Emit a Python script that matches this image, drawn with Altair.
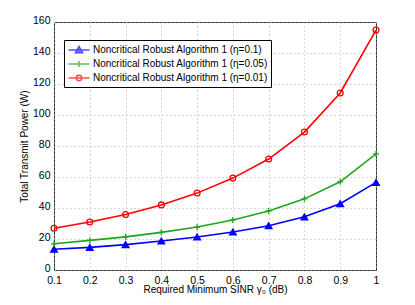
import altair as alt
import pandas as pd

sinr = [0.1, 0.2, 0.3, 0.4, 0.5, 0.6, 0.7, 0.8, 0.9, 1.0]
p_eta_01 = [13.4, 14.6, 16.4, 18.7, 21.3, 24.5, 28.6, 34.3, 42.8, 56.5]
p_eta_005 = [16.9, 19.1, 21.4, 24.3, 27.7, 32.3, 38.1, 45.9, 56.9, 74.9]
p_eta_001 = [26.9, 31.0, 35.8, 42.0, 49.6, 59.3, 71.6, 89.0, 114.2, 154.8]
series_names = [
    "Noncritical Robust Algorithm 1 (η=0.1)",
    "Noncritical Robust Algorithm 1 (η=0.05)",
    "Noncritical Robust Algorithm 1 (η=0.01)",
]
colors = ["#0000ff", "#1ea51e", "#ff0000"]
x_ticks = [0.1, 0.2, 0.3, 0.4, 0.5, 0.6, 0.7, 0.8, 0.9, 1.0]
y_ticks = [0, 20, 40, 60, 80, 100, 120, 140, 160]

rows = []
for name, vals in zip(series_names, [p_eta_01, p_eta_005, p_eta_001]):
    for xv, yv in zip(sinr, vals):
        rows.append({"sinr": xv, "power": yv, "series": name})
df = pd.DataFrame(rows)

FONT = "Liberation Sans"

x_enc = alt.X(
    "sinr:Q",
    scale=alt.Scale(domain=[0.1, 1.0], nice=False, zero=False),
    axis=alt.Axis(values=x_ticks, format="~g", title="Required Minimum SINR γ₀ (dB)"),
)
y_enc = alt.Y(
    "power:Q",
    scale=alt.Scale(domain=[0, 160], nice=False),
    axis=alt.Axis(values=y_ticks, title="Total Transmit Power (W)"),
)

marker_shapes = ["triangle-up", "M-1,0H1M0,-1V1", "circle"]
marker_sizes = [45, 36, 34]
marker_fill = [colors[0], "transparent", "transparent"]

layers = []
for i, name in enumerate(series_names):
    sub = alt.Chart(df).transform_filter(alt.datum.series == name)
    layers.append(
        sub.mark_line(color=colors[i], strokeWidth=1.6).encode(x=x_enc, y=y_enc)
    )
    layers.append(
        sub.mark_point(
            shape=marker_shapes[i],
            size=marker_sizes[i],
            stroke=colors[i],
            fill=marker_fill[i],
            strokeWidth=1.3,
            opacity=1,
        ).encode(x=x_enc, y=y_enc)
    )

legend_paths = [
    "M-1.75,0H1.75M0,-0.6L0.6,0.45H-0.6Z",
    "M-1.75,0H1.75M0,-0.5V0.5",
    "M-1.75,0H1.75M0.45,0A0.45,0.45,0,1,1,-0.45,0A0.45,0.45,0,1,1,0.45,0",
]
leg = alt.Legend(
    title=None,
    orient="none",
    legendX=10,
    legendY=18,
    strokeColor="black",
    fillColor="white",
    padding=3,
    symbolSize=144,
    symbolStrokeWidth=1.5,
    symbolOffset=5,
    labelOffset=7,
    labelLimit=400,
    rowPadding=1,
    labelFont=FONT,
    labelFontSize=10,
    labelColor="black",
    cornerRadius=0,
)
legend_layer = (
    alt.Chart(df)
    .transform_filter(alt.datum.power < -1000)
    .mark_point()
    .encode(
        x=x_enc,
        y=y_enc,
        shape=alt.Shape("series:N", scale=alt.Scale(domain=series_names, range=legend_paths), legend=leg),
        stroke=alt.Stroke("series:N", scale=alt.Scale(domain=series_names, range=colors), legend=leg),
        fill=alt.Fill("series:N", scale=alt.Scale(domain=series_names, range=[colors[0], "transparent", "transparent"]), legend=leg),
    )
)
layers.append(legend_layer)

chart = (
    alt.layer(*layers)
    .properties(
        width=322,
        height=248,
        autosize=alt.AutoSizeParams(type="none"),
        padding={"left": 46, "top": 14, "right": 25, "bottom": 27},
        background="white",
    )
    .configure_view(stroke="#333333", strokeWidth=1)
    .configure_axis(
        grid=True,
        gridColor="#b0b0b0",
        gridDash=[1, 3],
        gridWidth=1,
        domain=False,
        ticks=False,
        labelFlush=False,
        labelFont=FONT,
        labelFontSize=10.5,
        labelColor="black",
        titleFont=FONT,
        titleFontSize=10,
        titleFontWeight="normal",
        titleColor="black",
    )
    .configure_axisX(labelPadding=5, titlePadding=-1)
    .configure_axisY(labelPadding=4, titlePadding=3, labelOffset=-1.5)
)

chart.save("out.html", embed_options={"renderer": "svg", "actions": False})
